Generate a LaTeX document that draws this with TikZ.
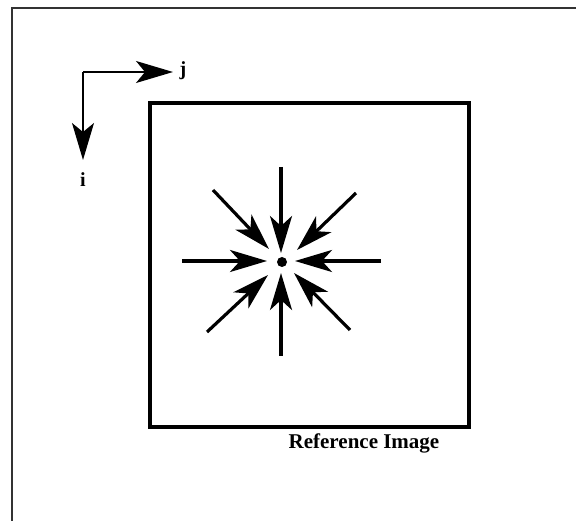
\documentclass[tikz,border=0pt]{standalone}
\usepackage{fontspec}
\setmainfont{Liberation Serif}
\usetikzlibrary{arrows.meta}
\begin{document}
\begin{tikzpicture}[x=1pt,y=-1pt,
  bigarrow/.style={line width=3.2pt,-{Stealth[length=37pt,width=22pt,inset=10pt]}},
  axarrow/.style={line width=1.5pt,-{Stealth[length=37pt,width=22pt,inset=9pt]}},
  lbl/.style={font=\bfseries\fontsize{20}{22}\selectfont,inner sep=0pt}]
\useasboundingbox (0,0) rectangle (576,521);
% frame
\coordinate (ftr) at (576,8);
\coordinate (ftl) at (12,8);
\coordinate (fbl) at (12,521);
\draw[line width=1.2pt,black!80] (ftr) -- (ftl) -- (fbl);
% axes
\coordinate (o) at (83,72);
\coordinate (jend) at (173,72);
\coordinate (iend) at (83,160);
\draw[axarrow] (o) -- (jend);
\draw[axarrow] (o) -- (iend);
\node[lbl] (j) at (183,71) {j};
\node[lbl] (i) at (83,180) {i};
% box
\draw[line width=3.4pt] (150,103) rectangle (469,427);
\node[font=\bfseries\fontsize{21}{24}\selectfont,inner sep=0pt] (cap) at (364,443) {Reference Image};
% center
\fill (282,262) circle (5pt);
\coordinate (c) at (282,262);
\foreach \sx/\sy/\tx/\ty/\n in {281/167/281/253/a, 182/261/267/261/b, 381/261/295/261/c2, 281/356/281/273/d, 213/190/269/249/e, 356/193/297/250/f, 207/332/268/275/g, 350/330/294/273/h}{
  \coordinate (s\n) at (\sx,\sy);
  \coordinate (t\n) at (\tx,\ty);
  \draw[bigarrow] (s\n) -- (t\n);
}
\end{tikzpicture}
\end{document}
